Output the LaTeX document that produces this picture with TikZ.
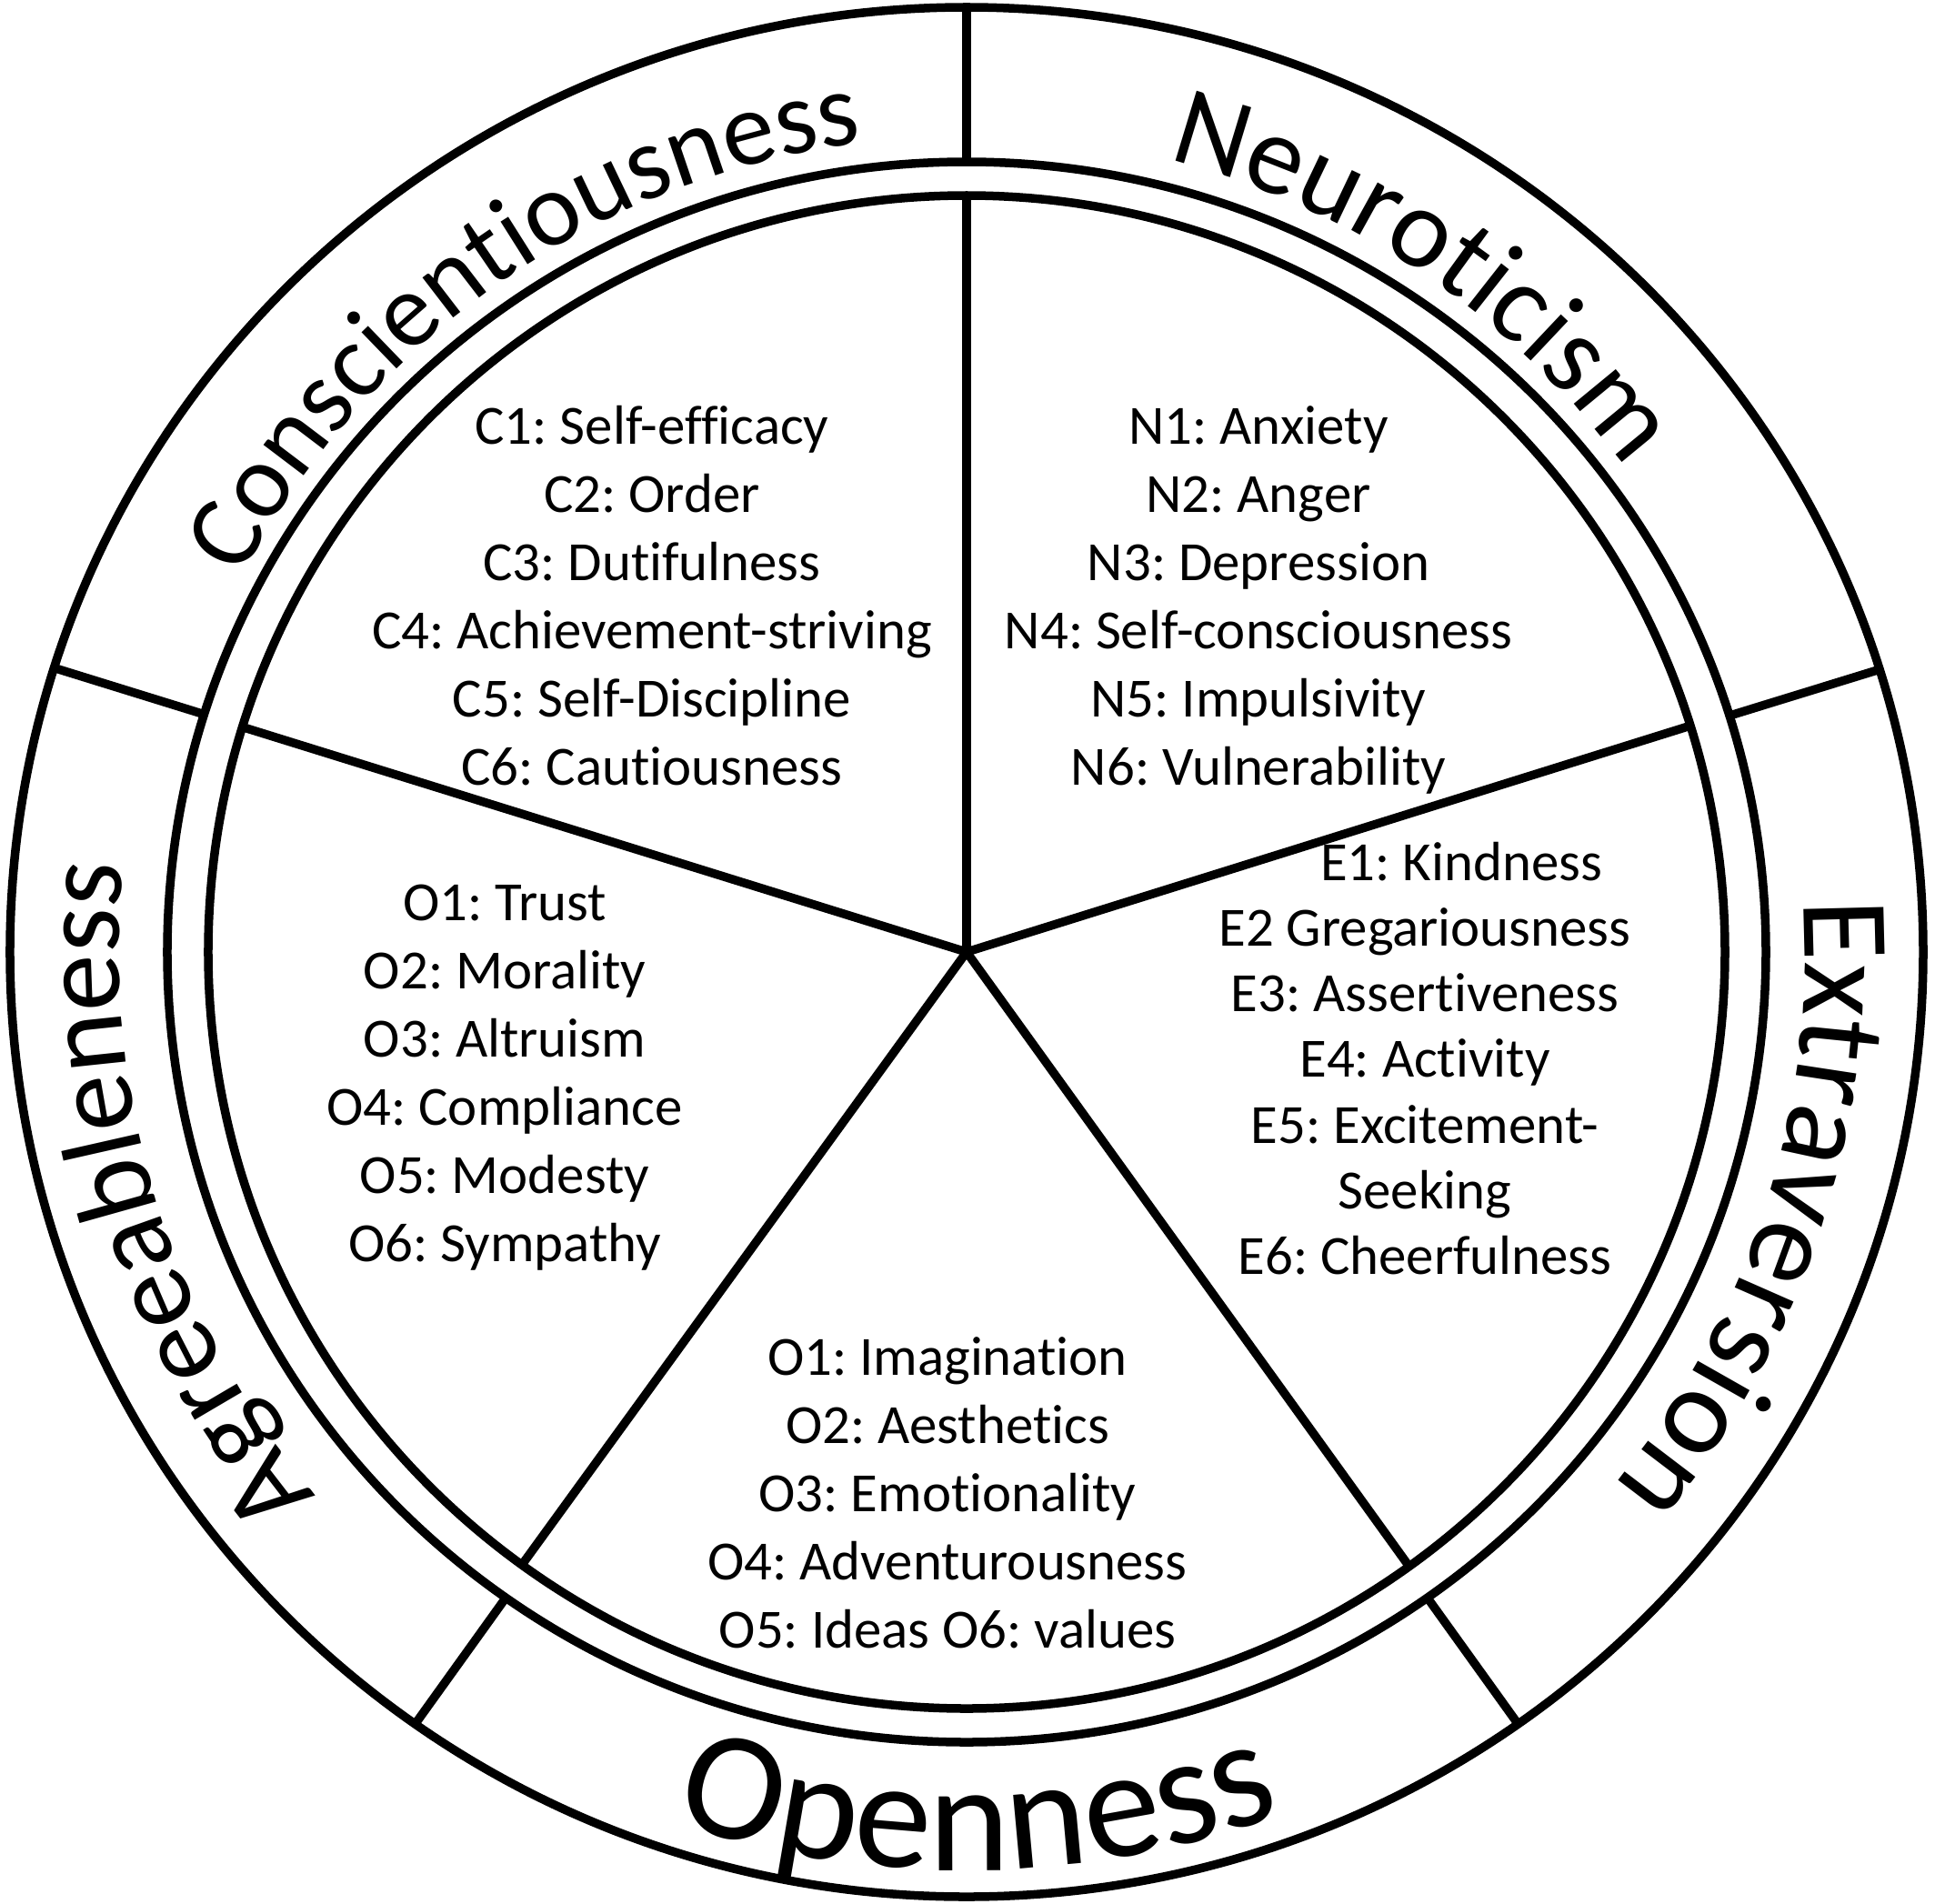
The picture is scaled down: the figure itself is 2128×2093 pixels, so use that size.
\documentclass[tikz,border=0pt]{standalone}
\usepackage{fontspec}
\setmainfont[Ligatures=NoCommon]{Carlito}
\usetikzlibrary{decorations.text}
\frenchspacing
\begin{document}
\begin{tikzpicture}[x=0.01cm,y=0.01cm,
  ring/.style={line width=0.095cm, draw=black},
  facet/.style={font=\fontsize{17.3pt}{21pt}\selectfont, anchor=base, inner sep=0pt},
  arclabel/.style={decorate, decoration={text along path, text align=center, text={#1}}}
]
\fill[white] (-1063,-1046) rectangle (1065,1047);
\useasboundingbox (-1063,-1046) rectangle (1065,1047);
\coordinate (ctr) at (0,0);
% rings
\draw[ring] (ctr) ellipse [x radius=1052, y radius=1039];
\draw[ring] (ctr) ellipse [x radius=879, y radius=869];
\draw[ring] (ctr) ellipse [x radius=834, y radius=832];
% spokes
\foreach \a [count=\i] in {90,162.7,17.4,234.1,305.7}{
  \coordinate (s\i) at ({834*cos(\a)},{832*sin(\a)});
  \draw[ring] (ctr) -- (s\i);
}
% ring dividers
\foreach \a [count=\i] in {90,162.5,17.4,234.8,305.2}{
  \coordinate (m\i) at ({879*cos(\a)},{869*sin(\a)});
  \coordinate (o\i) at ({1052*cos(\a)},{1039*sin(\a)});
  \draw[ring] (m\i) -- (o\i);
}
% trait names along the ring
\path[arclabel={|\fontsize{33pt}{33pt}\selectfont|Conscientiousness}]
  (165:897) arc[start angle=165, end angle=85, radius=897];
\path[arclabel={|\fontsize{35.6pt}{36pt}\selectfont|Neuroticism}]
  (96:899) arc[start angle=96, end angle=16, radius=899];
\path[arclabel={|\fontsize{39pt}{40pt}\selectfont|Extraversion}]
  (22:922) arc[start angle=22, end angle=-58, radius=922];
\path[arclabel={|\fontsize{48.4pt}{49pt}\selectfont|Openness}]
  (230.75:1010) arc[start angle=230.75, end angle=310.75, radius=1010];
\path[arclabel={|\fontsize{35.8pt}{36pt}\selectfont|Agreeableness}]
  (237:932) arc[start angle=237, end angle=157, radius=932];
% facets
\foreach \t [count=\i from 0] in {C1: Self-efficacy, C2: Order, C3: Dutifulness, C4: Achievement-striving, C5: Self-Discipline, C6: Cautiousness}
  \node[facet] (c\i) at (-346,{559-75*\i}) {\t};
\foreach \t [count=\i from 0] in {N1: Anxiety, N2: Anger, N3: Depression, N4: Self-consciousness, N5: Impulsivity, N6: Vulnerability}
  \node[facet] (n\i) at (321,{559-75*\i}) {\t};
\foreach \t [count=\i from 0] in {O1: Trust, O2: Morality, O3: Altruism, O4: Compliance, O5: Modesty, O6: Sympathy}
  \node[facet] (a\i) at (-508,{35-75*\i}) {\t};
\node[facet] (e0) at (544,79) {E1: Kindness};
\foreach \t [count=\i from 1] in {E2 Gregariousness, E3: Assertiveness, E4: Activity, E5: Excitement-, Seeking, E6: Cheerfulness}
  \node[facet] (e\i) at (504,{79-72.3*\i}) {\t};
\foreach \t [count=\i from 0] in {O1: Imagination, O2: Aesthetics, O3: Emotionality, O4: Adventurousness, O5: Ideas O6: values}
  \node[facet] (p\i) at (-21,{-465-75*\i}) {\t};
\end{tikzpicture}
\end{document}
